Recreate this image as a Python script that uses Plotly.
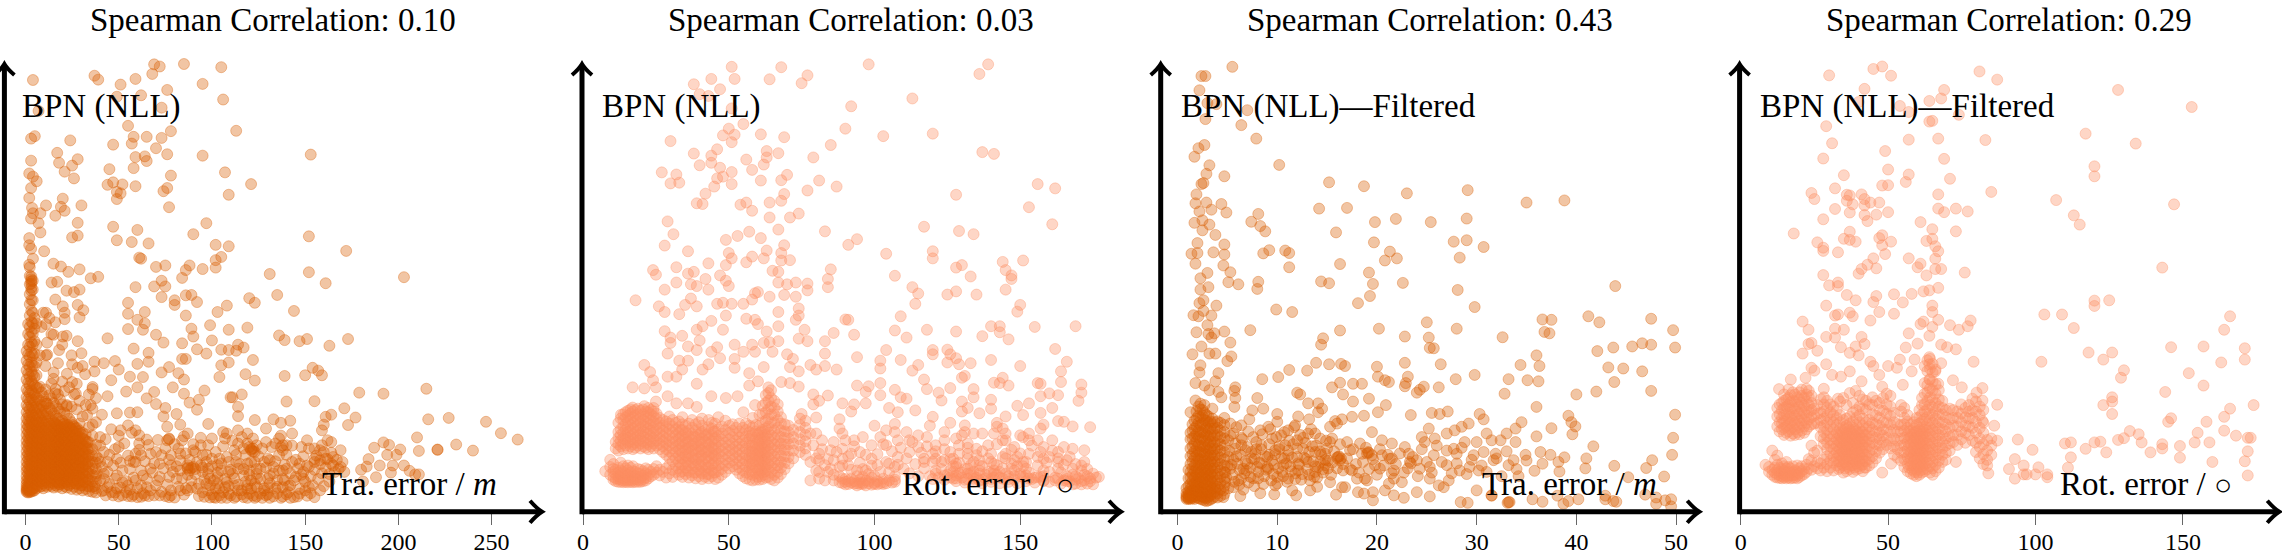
import plotly.graph_objects as go

W, H = 2282, 557
ORANGE = "rgba(217,95,2,0.36)"
SALMON = "rgba(252,141,98,0.36)"
FONT = "Liberation Serif"

titles = ["Spearman Correlation: 0.10", "Spearman Correlation: 0.03", "Spearman Correlation: 0.43", "Spearman Correlation: 0.29"]
method_labels = ["BPN (NLL)", "BPN (NLL)", "BPN (NLL)—Filtered", "BPN (NLL)—Filtered"]
DEG = '<span style="font-size:30px">○</span>'
axis_labels = ["Tra. error / <i>m</i>", "Rot. error / " + DEG, "Tra. error / <i>m</i>", "Rot. error / " + DEG]
tick_vals = [[0, 50, 100, 150, 200, 250], [0, 50, 100, 150], [0, 10, 20, 30, 40, 50], [0, 50, 100, 150]]

# Scattered points: (error, uncertainty score)
tra_all_sparse = [(4,1215),(37,1227),(39,1216),(51,1202),(59,1218),(68,1232),(69,1259),(72,1253),(85,1260),(105,1251),(95,1204),(106,1160),(76,1187),(62,1172),(49,1168),(73,1137),(7,1128),(55,1086),(113,1072),(78,1071),(58,1055),(65,1055),(73,1052),(57,1036),(47,1033),(24,1045),(5,1057),(3,1050),(70,1023),(76,1006),(95,1002),(153,1005),(17,1010),(28,992),(3,988),(18,982),(25,974),(59,998),(64,1000),(65,987),(58,967),(45,964),(21,957),(26,938),(78,946),(107,955),(2,952),(4,943),(6,930),(121,922),(44,920),(47,927),(52,921),(59,916),(76,911),(74,902),(49,900),(51,896),(3,911),(109,892),(2,883),(49,880),(20,881),(11,862),(19,858),(21,847),(30,862),(77,857),(3.5,855),(4,840),(8,840),(16,833),(3,825),(7,812),(28,813),(97,812),(47,802),(60,793),(8,786),(90,781),(152,775),(2,770),(25,772),(28,777),(49,764),(57,759),(66,755),(2,750),(102,751),(109,747),(10,733),(172,734),(3,740),(4,712),(61,715),(62,712),(105,717),(102,708),(2,695),(15,698),(19,690),(23,675),(29,682),(70,689),(75,693),(88,693),(86,680),(95,683),(102,687),(131,669),(152,674),(203,660),(35,657),(39,661),(84,658),(161,643),(14,645),(17,647),(73,650),(69,634),(75,634),(59,632),(29,625),(22,622),(26,618),(135,610),(73,604),(16,597),(120,601),(123,588),(80,595),(86,609),(89,610),(80,582),(92,590),(55,588),(108,580),(20,578),(28,582),(31,567),(64,562),(103,562),(144,565),(55,557),(86,552),(11,560),(21,560),(29,547),(60,540),(21,542),(16,533),(11,528),(64,530),(99,525),(55,514),(63,512),(89,515),(119,518),(109,512),(70,498),(15,498),(22,495),(20,493),(44,488),(136,496),(139,483),(151,486),(147,480),(173,486),(90,493),(100,482),(28,480),(74,476),(84,474),(163,467),(114,470),(117,462),(18,455),(58,459),(92,457),(105,456),(109,455),(113,453),(66,447),(30,446),(97,445),(11,440),(84,430),(86,430),(122,427),(66,422),(37,422),(48,424),(42,418),(60,416),(109,420),(105,412),(77,407),(25,415),(154,405),(157,397),(159,384),(150,384),(50,400),(28,405),(37,395),(73,392),(82,390),(118,387),(139,382),(104,379),(32,387),(63,379),(56,380),(85,372),(123,369),(25,365),(46,370),(15,374),(36,351),(79,350),(60,350),(96,341),(215,346),(179,335),(192,332),(69,337),(116,330),(54,338),(85,332),(110,322),(111,322),(65,319),(44,325),(16,333),(27,332),(140,310),(155,311),(70,303),(88,307),(93,315),(35,300),(11,305),(22,297),(114,295),(171,291),(75,292),(92,287),(56,279),(49,277),(60,280),(33,272),(81,275),(41,273),(164,273),(161,267),(114,269),(74,268),(177,265),(216,260),(227,264),(247,253),(123,258),(133,260),(137,250),(142,256),(98,247),(173,244),(36,245),(83,245),(160,245),(255,221),(264,203),(210,209),(231,189),(240,172),(221,175),(221,174),(211,171),(187,180),(192,195),(195,188),(201,175),(199,160),(194,160),(184,148),(197,130),(190,130),(183,127),(180,118),(203,130),(206,115),(211,105),(209,105),(188,97),(196,110),(181,85)]
tra_all_band = [(51,229),(55,243),(59,229),(61,215),(65,203),(61,192),(50,182),(42,168),(40,210),(76,239),(77,206),(76,201),(87,220),(84,201),(82,178),(90,173),(98,187),(106,224),(108,220),(107,206),(114,229),(129,234),(143,220),(159,229),
(44,140),(49,149),(56,143),(63,102),(67,121),(59,163),(62,159),(70,168),(73,159),(78,159),(72,135),(77,98),(71,88),(81,93),(78,131),(83,116),(87,121),(90,126),(88,116),(91,168),(94,187),(95,159),(100,149),(104,149),(105,116),(109,140),(112,173),(119,220),(119,192),(122,178),(121,173),(123,168),(117,178),(114,192),(129,196),(136,206),(138,187),(137,182),(140,187),(136,159),(131,145),(128,140),(123,140),(119,135),(113,140),(109,112),(111,107),(117,102),(124,107),(131,102),(138,116),(143,140),(148,182),(151,201),(155,178),(159,187),(162,201),(164,196),(169,173),(165,154),(158,145),(155,149),(152,126),(149,112),(164,135),(169,126),(145,98),(149,93),(139,88),(135,88),(130,93),(124,93),(121,88),(98,121),(95,112),(99,93),(103,98),
(120,182),(124,187),(138,173),(134,192),(158,173),(161,149),(155,140),(147,135),(140,121),(133,126),(126,121),(120,116),(114,121),(103,131),(97,140),(94,131),(87,131),(83,163),(67,163),(58,140),
(89,69),(92,65),(95,55),(98,60),(101,41),(104,46),(106,55),(109,51),(112,39),(114,60),(117,41),(120,51),(123,39),(126,51),(129,46),(131,39),(135,52),(138,43),(141,55),(144,41),(147,51),(150,60),(155,41),(152,69),(142,74),(138,69),(130,69),(124,69),(119,74),(112,74),(108,83),(103,79),(97,79),(102,65),(107,69),(116,60),(121,65),(128,60),(134,65),
(100,49),(102,39),(105,39),(108,39),(110,46),(113,43),(116,49),(119,39),(122,45),(124,43),(127,39),(130,49),(133,43),(137,39),(140,49),(142,39),(146,43),(87,124),(89,123),(91,120),(121,176),(122,170),(77,204),
(40,88),(44,69),(46,55),(49,65),(52,46),(54,55),(57,43),(60,41),(64,46),(69,46),(72,46),(77,41),(78,46),(83,60),(87,60),(42,60),(48,93),(52,83),(55,74),(59,88),(62,74),(65,69),(42,107),(40,140),
(43,46),(47,46),(50,43),(55,44),(58,48),(62,42),(66,44),(75,44),(80,40),(85,48),(93,44),(96,42),(99,40),(151,45),(153,52),(158,60),(160,72),(163,85)]
tra_all_fill = [(37,72),(38,108),(39,150),(40,186),(41,58),(41,126),(42,92),(43,204),(44,112),(45,160),(45,78),(46,232),(47,130),(48,54),(48,176),(49,102),(50,214),(51,68),(51,138),(52,116),(53,192),(54,86),(55,158),(56,62),(56,120),(57,222),(58,96),(59,140),(60,66),(61,174),(62,116),(63,52),(64,142),(65,92),(66,188),(67,60),(68,110),(69,136),(70,74),(71,202),(72,98),(73,56),(74,122),(75,178),(76,76),(77,146),(78,60),(79,112),(80,190),(81,128),(82,70),(83,144),(84,94),(85,212),(86,66),(86,164),(87,104),(88,146),(89,88),(90,190),(91,106),(92,140),(93,78),(94,208),(95,124),(96,90),(97,160),(98,106),(99,74),(100,128),(100,206),(101,88),(102,168),(103,110),(104,66),(105,136),(106,184),(107,92),(108,154),(109,72),(110,118),(111,200),(112,94),(113,160),(114,76),(115,134),(116,210),(117,120),(118,84),(118,160),(119,64),(120,104),(121,140),(122,206),(123,78),(124,120),(125,156),(126,92),(127,178),(128,66),(129,124),(130,150),(131,80),(132,182),(133,108),(134,142),(135,70),(136,116),(137,214),(138,92),(139,132),(140,160),(141,72),(142,108),(143,186),(144,88),(145,146),(146,122),(147,64),(148,104),(149,156),(150,84),(151,130),(152,178),(153,100),(154,74),(155,118),(156,158),(157,92),(158,134),(159,108),(160,168),(161,124),(162,148),(163,106),(164,166),(165,130),(166,112),(167,146),(168,120),(170,140),(171,112)]
# Dense regions read column by column: (error, [scores])
tra_all_dense = [
(0.6,[56,60,64,70,78,88,100,114,126,140,156,170,186,200,216,232,246,262,280,300,322,345,372,398,425,452]),
(1.4,[54,58,63,68,74,84,94,108,120,134,148,162,178,192,208,224,240,256,272,294,316,338,362,388,414,442,470,500,528]),
(2.3,[55,59,66,72,82,92,104,116,130,144,158,172,188,204,218,236,250,268,288,310,332,356,380,408,436,464,492,520,552,584,612,640,664,688]),
(3.1,[57,62,70,78,90,100,112,126,138,152,166,182,196,212,228,244,260,278,298,320,342,368,394,420,448,476,506,534,566,596,622,642,654,662,648,630]),
(3.9,[58,64,74,86,96,108,122,134,148,162,176,192,206,222,238,254,272,292,314,336,360,386,412,440,470,500,530,560,595,625,650]),
(4.8,[60,68,80,92,104,116,130,142,156,170,186,200,216,232,248,266,286,308,330,354,380,410,445,480,515,545]),
(5.9,[66,76,90,100,114,128,140,154,168,182,198,212,226,242,258,276,296,322,350,384,420,470,530]),
(6.8,[74,88,98,110,124,136,150,164,178,192,206,222,238,252,270,290,318,348]),
(7.7,[70,84,96,108,118,132,146,160,174,188,202,218,234,250,266,288,312,352,440]),
(8.6,[72,86,100,112,126,138,152,166,180,194,210,224,240,256,278,300,336,520]),
(9.5,[66,80,94,106,120,134,148,160,176,190,204,220,236,252,272,296,325,560]),
(10.7,[74,88,102,116,128,142,156,170,184,198,214,230,246,264,284,310,344,410]),
(11.6,[70,82,96,110,122,136,150,164,178,192,206,222,238,254,276,304,442,476]),
(12.8,[76,92,104,118,132,144,158,172,186,202,216,232,248,268,292,328,545]),
(13.9,[72,84,98,112,126,140,152,168,182,196,212,226,242,260,285,318,360,500]),
(15.1,[68,80,94,108,120,134,148,162,176,190,206,220,236,254,276,306,392]),
(15.7,[86,104,122,140,158,178,196,214,232,250]),
(16.2,[74,90,102,116,130,144,158,172,186,200,216,230,246,268,298,345]),
(16.9,[82,98,118,136,152,170,190,208,226,244]),
(17.4,[70,84,98,112,126,140,154,168,182,198,212,228,242,262,290,330,418]),
(18.1,[78,94,110,128,146,164,180,200,218,238]),
(18.5,[76,90,104,118,132,146,160,174,188,204,218,234,250,282,316]),
(19.2,[88,106,124,142,158,176,194,212,232]),
(19.7,[66,82,96,110,124,138,152,166,180,194,210,224,238,256,302,366,470]),
(20.4,[80,100,120,136,156,172,192,210,230,246]),
(20.9,[72,88,102,116,130,144,158,172,186,200,216,232,248,278,340]),
(21.6,[92,108,128,148,164,182,204,222,240]),
(22.2,[68,84,98,112,126,140,154,168,182,198,212,228,244,272,300,388]),
(22.9,[76,96,114,134,150,170,188,208,226,244]),
(23.4,[74,90,104,118,132,146,160,176,190,206,222,238,262,350]),
(24.1,[86,106,124,144,162,180,198,218,236]),
(24.7,[64,80,96,110,124,138,154,168,184,198,214,232,252,296,440]),
(25.4,[92,114,134,150,170,190,208,226,244]),
(26.1,[70,88,102,118,132,146,162,176,192,208,224,240,330]),
(26.8,[80,100,124,142,160,180,200,216,234]),
(27.5,[62,78,94,108,124,138,154,170,186,202,218,236,288,360]),
(28.2,[88,112,130,148,168,188,206,226]),
(29.0,[66,82,100,114,130,146,162,178,194,210,228,248,312]),
(29.8,[74,96,120,138,156,176,196,218]),
(30.6,[60,74,92,108,124,140,156,172,188,206,222,268,410]),
(31.4,[84,104,126,146,164,184,204]),
(32.3,[64,82,98,116,132,148,166,184,200,218,300]),
(33.2,[72,92,112,136,156,176,196]),
(34.0,[58,72,90,108,126,142,160,178,196,238,330]),
(35.9,[56,70,86,104,122,140,158,176,214,290,345]),
(37.8,[54,66,84,100,120,138,156,188,252,320]),
]

rot_all_sparse = [(51,1252),(68,1251),(98,1259),(139,1259),(136,1232),(77,1228),(75,1206),(64,1217),(52,1218),(44,1218),(38,1203),(47,1189),(40,1175),(43,1170),(113,1163),(92,1141),(51,1135),(55,1091),(50,1078),(90,1078),(103,1057),(120,1064),(61,1062),(69,1054),(48,1059),(52,1061),(30,1043),(51,1040),(85,1032),(46,1020),(137,1012),(141,1007),(38,1008),(63,1015),(67,1009),(44,1002),(63,997),(79,997),(56,991),(44,982),(62,977),(40,975),(47,968),(58,962),(27,955),(51,956),(32,949),(70,948),(46,938),(48,943),(61,932),(68,933),(81,932),(30,924),(33,926),(51,922),(45,915),(87,915),(156,922),(162,910),(77,904),(42,895),(69,894),(128,892),(64,870),(68,875),(39,868),(41,866),(54,864),(56,870),(58,847),(153,857),(74,839),(71,828),(64,828),(29,817),(161,809),(117,802),(67,794),(57,788),(83,789),(129,790),(134,781),(31,781),(53,776),(61,770),(49,765),(94,767),(91,751),(28,749),(69,750),(63,735),(36,733),(120,733),(104,726),(50,728),(68,728),(58,718),(120,713),(51,713),(62,713),(151,707),(71,708),(144,703),(56,702),(68,707),(43,699),(49,694),(130,694),(128,687),(32,688),(145,680),(24,680),(85,682),(65,678),(67,675),(25,667),(36,670),(38,675),(47,665),(147,665),(147,655),(107,664),(133,662),(84,655),(42,655),(49,650),(32,645),(37,640),(77,642),(73,645),(67,645),(70,640),(50,635),(39,635),(113,632),(84,632),(77,623),(28,625),(43,625),(145,625),(60,618),(59,615),(128,620),(135,611),(115,614),(125,611),(69,610),(64,605),(73,605),(18,595),(37,600),(58,597),(55,585),(114,585),(150,582),(149,563),(48,588),(51,585),(35,582),(39,578),(46,585),(26,578),(28,562),(67,562),(74,572),(33,556),(49,552),(109,550),(74,552),(90,541),(91,540),(56,543),(59,540),(73,540),(44,537),(60,528),(41,522),(140,522),(143,522),(155,520),(169,522),(67,522),(39,512),(48,512),(28,508),(118,512),(107,510),(128,507),(86,503),(76,512),(143,505),(93,498),(63,507),(30,490),(34,495),(74,487),(111,490),(137,494),(146,485),(83,480),(77,480),(67,480),(64,477),(30,475),(40,482),(52,470),(58,470),(62,475),(104,455),(162,458),(36,465),(46,463),(39,455),(125,456),(120,455),(55,450),(59,450),(44,450),(29,445),(120,443),(126,443),(83,445),(70,443),(128,432),(94,435),(109,427),(52,430),(47,432),(72,430),(65,450),(166,422),(140,427),(102,425),(125,420),(33,425),(36,425),(21,413),(150,410),(133,418),(129,415),(115,413),(78,413),(83,410),(43,415),(52,405),(62,407),(71,407),(102,403),(80,400),(87,400),(74,395),(23,393),(164,395),(113,397),(34,400),(131,382),(130,377),(57,390),(41,400),(29,380),(32,380),(102,362),(117,372),(144,377),(164,365),(156,362),(157,360),(141,363),(143,362),(171,358),(68,365),(71,362),(60,367),(24,370),(17,350),(21,347),(94,355),(98,353),(146,355),(118,345),(107,343),(126,348),(25,350),(39,360),(74,352),(57,355),(97,337),(122,335),(134,345),(102,328),(171,335),(160,333),(163,328),(79,330),(84,327),(109,322),(111,318),(157,325),(134,322),(123,313),(140,315),(44,325),(49,320),(53,325),(170,312),(25,310),(29,325),(81,312),(79,302),(89,305),(93,302),(97,305),(130,310),(153,305),(149,298),(32,305),(36,305),(105,292),(17,293),(21,297),(161,292),(132,292),(140,290),(59,300),(39,295),(114,285),(108,280),(92,282),(130,282),(136,277),(157,278),(151,272),(145,268),(13,273),(55,280),(120,267),(75,275),(80,265),(88,260),(163,255),(165,253),(142,250),(126,250),(131,243),(158,245),(107,247),(100,242),(119,242),(168,240),(174,238)]
rot_all_band = [(78,220),(80,220),(79,187),(81,163),(78,140),(81,145),(82,201),(86,196),(85,173),(89,177),(89,220),(88,234),(90,201),(93,201),(96,210),(99,187),(99,149),(95,168),(92,163),(89,149),(86,145),(83,131),(80,116),(78,88),(81,93),(84,112),(88,126),(91,131),(94,116),(97,116),(101,131),(105,135),(104,187),(104,229),(102,210),(107,224),(108,201),(111,224),(112,201),(115,215),(115,182),(118,210),(121,187),(117,149),(112,168),(108,154),(107,126),(117,140),(121,116),(124,224),(123,140),(124,201),(128,206),(130,215),(132,192),(129,163),(126,168),(134,220),(137,220),(135,177),(139,187),(141,220),(144,234),(145,201),(148,182),(151,210),(153,220),(157,234),(156,201),(161,201),(165,182),(168,177),(172,173),(172,140),(166,145),(163,168),(158,149),(153,163),(151,140),(148,145),(144,154),(140,140),(136,145),(132,149),(128,135),(126,116),(132,121),(136,116),(141,116),(147,121),(152,121),(158,116),(163,121),(168,121),(171,116),(156,98),(152,102),
(86,88),(88,83),(89,81),(91,86),(93,79),(95,90),(96,81),(98,86),(100,81),(101,86),(103,83),(105,88),(107,90),(89,93),(92,93),(96,98),(99,96),(103,93),(90,77),(94,74),(97,74),(101,77),(95,83),(93,86),(97,88),
(163,93),(165,88),(167,86),(169,90),(171,86),(172,88),(174,86),(176,96),(166,100),(169,100),(173,100),(164,79),(168,77),(171,77),(175,77),(177,98),(175,107),(169,79),(173,79),(160,84),(158,86),(155,82),(152,86),(149,80),(146,84),(143,80),(140,84),(137,80),(134,84),(131,82),(128,86),
(127,112),(129,107),(132,107),(134,112),(136,107),(139,112),(141,107),(143,112),(145,107),(148,116),(150,107),(153,93),(157,98),(128,126),(133,131),(137,128),(142,131),(147,135),(151,128),(149,154),(145,163),(140,163),(135,159),(156,154),(160,154),(163,140),(158,182),(153,201),(150,215),(144,201),(145,220),(142,239),(129,187),(131,224),(124,145),(121,149),(120,163),(127,149),(132,163),(121,107),(124,102),(127,93),(131,90),(134,93),(137,90),(141,96),(144,93),(148,100)]
rot_all_fill = [(80,150),(81,112),(82,176),(83,88),(84,148),(85,120),(86,104),(87,168),(88,100),(89,130),(90,92),(91,156),(92,118),(93,184),(94,100),(95,138),(96,120),(97,160),(98,106),(99,130),(100,100),(101,162),(102,112),(103,190),(104,140),(105,110),(106,170),(107,100),(108,132),(109,180),(110,120),(111,150),(112,108),(113,196),(114,134),(115,100),(116,166),(117,122),(118,184),(119,100),(120,140),(121,170),(122,96),(123,120),(124,176),(125,104),(126,148),(127,128),(128,102),(129,138),(130,96),(131,120),(132,180),(133,108),(134,140),(135,96),(136,130),(137,170),(138,104),(139,150),(140,92),(141,134),(142,190),(143,96),(144,122),(145,150),(146,100),(147,174),(148,90),(149,128),(150,164),(151,98),(152,140),(153,110),(154,186),(155,96),(156,130),(157,168),(158,100),(159,138),(160,112),(161,172),(162,96),(163,150),(164,110),(165,132),(166,92),(167,154),(168,104),(169,134),(170,94),(171,130),(172,104),(173,120),(174,94),(126,96),(130,110),(134,100),(138,94),(142,104),(146,92),(150,100),(154,92),(158,88),(162,88),(166,86),(140,108),(136,88),(132,92),(128,94),(124,90),(120,92),
(90,84),(92,82),(94,80),(96,78),(98,80),(100,78),(102,80),(104,80),(106,82),(91,78),(95,78),(99,76),(103,78),(107,84)]
rot_all_dense = [
(7.6,[114]),(9.3,[104,126,146]),(10.4,[90,98,112,120,134]),(11.2,[86,94,106,118,178,196]),(12.1,[84,92,100,110,124,172,190,208,224,250]),
(12.9,[84,90,96,106,116,138,184,200,216,232,262]),(13.8,[83,88,94,102,112,128,176,192,206,222,240,258,274]),(14.6,[84,90,98,108,122,186,202,214,230,246,266,280]),
(15.4,[83,88,96,104,116,130,178,194,208,224,238,254,270,284]),(16.3,[84,90,98,110,124,184,198,212,228,244,260,276,288]),
(17.1,[83,88,94,102,114,128,176,190,204,218,234,250,266,282]),(17.9,[84,92,100,112,180,194,208,222,238,254,270,286]),
(18.8,[84,90,98,108,120,186,200,214,228,242,258,274,290]),(19.7,[84,88,96,106,118,178,192,206,220,236,252,268,284]),
(20.6,[86,92,102,114,184,198,212,226,242,258,274,288]),(21.5,[88,96,108,122,180,194,208,222,238,252,268,282]),
(22.4,[94,104,118,176,190,204,220,234,248,264,280,292]),(23.3,[100,112,184,198,212,228,244,258,274,286]),
(24.2,[104,120,178,192,206,222,236,252,268,282,292]),(25.2,[110,128,186,200,214,230,246,262,276]),
(26.3,[102,118,176,190,206,220,236,250,264]),(27.4,[112,168,184,198,212,228,242,258]),(28.5,[96,122,160,176,192,206,222,238,254]),
(29.6,[108,132,152,170,186,200,216,232,248,268]),(30.7,[98,118,142,162,178,194,208,224,240,258]),(31.8,[112,130,150,168,184,200,216,232,250]),
(32.9,[104,122,140,158,174,190,206,222,238,254]),(33.5,[112,134,152,172,192,212,230]),(34.1,[98,114,132,150,166,182,198,214,230,246,266]),(35.2,[106,124,142,160,176,192,208,224,242]),(35.8,[116,138,156,178,196,218]),
(36.3,[96,112,130,148,164,180,196,212,228,248]),(37.4,[102,120,138,154,170,186,202,218,236,258]),(38.0,[110,132,150,172,190,212]),(38.6,[94,110,128,146,162,178,194,210,228,246]),
(39.7,[100,118,134,150,168,184,200,216,232,252]),(40.3,[112,130,156,176,196,220]),(40.8,[92,108,126,142,158,174,190,206,224,242,262]),(41.9,[98,114,132,148,166,182,198,214,230]),(42.5,[106,124,152,170,194,216]),
(43.1,[94,106,124,140,156,172,188,204,220,238,258]),(44.2,[100,116,132,150,166,182,198,216,234,250]),(44.8,[110,136,158,178,204,226]),(45.3,[92,110,126,144,160,176,192,208,226,248]),
(46.4,[96,114,130,148,164,180,198,214,232,266]),(47.6,[104,120,136,154,170,186,202,220,240]),(48.8,[112,130,146,162,178,194,212,230,256]),
(50.1,[122,138,156,172,188,204,222,242]),(51.3,[128,144,160,176,192,210,228,246]),(52.5,[118,134,152,168,184,200,218,236]),
(53.6,[108,124,142,158,174,190,208,226,248]),(54.8,[100,116,134,150,166,184,200,218,236]),(55.9,[94,110,128,144,160,178,194,212,230,248]),
(57.1,[90,106,124,140,156,172,190,206,224,242]),(57.7,[114,134,150,168,186,214]),(58.2,[88,104,120,136,154,170,186,204,220,238,264]),(59.3,[90,108,124,142,158,174,190,208,226,244]),(59.9,[98,118,146,164,180,200,218]),
(60.5,[90,106,122,140,156,172,190,206,222,242,272]),(61.1,[100,116,134,152,168,184,202,224]),(61.6,[92,110,128,144,162,178,194,212,230,252,276,298]),(62.2,[104,122,138,156,174,190,208,226]),(62.7,[96,114,130,148,166,182,198,216,234,256,280,306,328]),
(63.6,[98,116,134,152,168,186,204,222,240,262,288,312,334,350]),(64.5,[92,110,126,144,160,178,196,214,232,252,274,296,320,342]),(65.6,[88,104,122,138,156,174,190,208,228,250,272,292,312]),
(66.8,[96,112,130,146,164,182,198,216,236,258,282,302]),(67.9,[106,124,140,158,176,192,210,228,248,266]),(69.2,[120,138,156,174,190,208,226,246]),
(70.5,[136,154,172,190,206,224,242]),(72.1,[150,172,192,210,230]),(74.4,[168,186,204,224,244,262]),(76.3,[160,178,198,216,236,256]),
]

tra_filtered_sparse = [(4.0,1261),(5.5,1252),(2.4,1226),(2.8,1226),(2.2,1186),(3.0,1150),(3.9,1147),(7.0,1130),(2.8,1105),(6.4,1088),(7.9,1050),(2.7,1032),(2.1,1023),(1.7,999),(10.2,976),(3.2,975),(2.9,951),(4.7,944),(2.6,925),(2.4,922),(15.2,927),(18.7,916),(23.0,896),(29.1,905),(1.9,893),(38.8,876),(35.0,870),(4.4,866),(1.8,868),(2.9,870),(14.2,853),(17.0,855),(3.4,850),(4.9,842),(2.2,845),(8.1,838),(21.9,824),(29.0,825),(7.4,816),(19.8,815),(25.4,815),(1.7,813),(2.5,820),(8.3,804),(3.2,808),(8.8,789),(15.9,786),(2.5,792),(3.8,779),(2.0,756),(4.7,752),(19.7,758),(27.7,760),(29.0,764),(30.7,745),(9.2,736),(10.8,735),(11.2,728),(8.6,727),(3.6,730),(4.7,724),(1.4,726),(2.0,728),(21.3,732),(22.0,713),(20.8,707),(28.3,715),(16.3,697),(1.8,698),(4.6,693),(11.2,688),(5.3,674),(3.0,672),(19.2,673),(2.3,657),(6.1,640),(5.1,646),(8.1,647),(14.4,648),(15.2,643),(19.6,641),(22.6,644),(43.9,635),(8.0,627),(3.1,632),(2.3,625),(28.1,624),(19.3,607),(2.6,595),(2.2,587),(18.1,587),(3.9,580),(29.8,576),(9.9,569),(11.5,562),(1.6,553),(2.6,565),(2.1,550),(3.4,552),(41.2,550),(42.3,533),(47.5,543),(36.6,541),(37.5,540),(25.0,533),(3.0,525),(7.3,511),(16.3,510),(20.2,515),(28.0,515),(49.7,511),(36.8,506),(37.3,502),(4.7,507),(1.9,505),(3.7,502),(3.1,500),(22.8,493),(25.2,490),(32.6,491),(14.6,488),(3.4,490),(5.3,476),(14.4,470),(45.6,465),(46.6,474),(47.5,470),(49.9,462),(43.7,462),(25.3,461),(25.7,460),(2.4,465),(42.1,452),(3.2,445),(3.8,445),(1.5,443),(36.0,440),(5.4,437),(5.0,424),(13.9,419),(15.2,415),(16.4,416),(16.8,410),(22.8,419),(26.4,415),(20.0,408),(34.4,413),(36.3,410),(43.2,406),(44.7,403),(2.3,412),(11.2,399),(13.0,397),(46.6,395),(2.2,392),(4.1,390),(10.1,379),(29.8,385),(23.1,380),(20.1,380),(8.5,373),(27.9,373),(33.2,373),(35.1,370),(36.2,367),(43.8,365),(3.8,367),(1.8,362),(20.8,370),(21.2,365),(16.3,363),(17.6,360),(18.5,360),(22.9,362),(5.8,350),(24.7,352),(2.7,355),(15.5,350),(22.8,353),(26.2,350),(24.3,343),(5.7,340),(47.5,340),(42.0,338),(3.2,342),(24.0,335),(32.8,332),(40.0,330),(12.0,335),(12.3,330),(16.6,330),(4.1,337),(4.4,322),(5.8,320),(8.0,320),(19.2,318),(1.8,313),(17.6,310),(13.1,305),(14.1,305),(20.9,300),(36.0,295),(5.7,295),(3.5,290),(7.5,285),(8.6,290),(20.1,280),(14.5,290),(27.1,282),(25.5,278),(26.3,275),(30.3,275),(49.9,273),(39.2,270),(1.3,280),(23.4,272),(18.7,270),(17.5,267),(7.2,260),(10.0,275),(12.1,268),(13.2,260),(14.1,280),(16.5,260),(15.8,255),(30.7,260),(34.5,252),(39.5,252),(39.9,240),(37.5,235),(36.0,212),(39.6,218),(49.7,208),(41.7,184),(36.4,168),(37.4,160),(38.8,153),(49.6,160),(41.0,150),(47.6,145),(34.9,160),(38.2,140),(36.6,135),(40.9,122),(43.8,129),(47.0,123),(38.3,113),(48.8,99),(45.2,97),(35.8,115),(34.2,100),(42.9,45),(43.7,30),(42.9,35),(44.0,28),(48.0,40),(48.0,22),(49.5,35),(49.5,15),(48.9,32),(46.9,48),(38.7,22),(39.2,30),(40.2,35),(36.6,28),(35.6,35),(33.3,27),(33.1,25),(29.1,25),(28.4,27),(38.1,45),(31.5,45)]
tra_filtered_band = [(6.4,243),(5.6,220),(5.3,248),(6.4,187),(5.1,154),(5.8,177),(5.1,201),(6.0,135),(6.8,173),(6.6,121),(5.3,121),(4.8,83),(3.8,65),(4.6,41),(5.6,69),(6.4,93),(7.3,98),(7.0,135),(7.6,210),(7.8,163),(8.0,126),(8.3,229),(8.4,187),(9.0,154),(9.1,239),(9.5,206),(9.8,173),(9.1,121),(10.0,98),(9.8,74),(9.7,49),(10.0,253),(10.4,215),(10.8,187),(11.1,229),(11.1,159),(10.6,131),(11.1,93),(11.8,243),(12.0,201),(12.0,154),(12.1,116),(11.9,46),(12.6,177),(13.1,140),(13.1,220),(13.3,88),(13.3,60),(13.8,168),(13.8,220),(13.8,112),(14.3,140),(14.8,163),(14.8,131),(15.3,239),(15.5,206),(15.3,83),(16.0,248),(16.1,154),(16.3,145),(16.6,116),(16.5,69),(16.8,69),(17.0,196),(17.3,173),(17.5,116),(18.0,93),(18.3,192),(18.5,163),(19.0,88),(18.8,93),(18.1,55),(18.7,51),(19.6,55),(19.6,32),(19.1,168),(19.5,159),(19.5,224),(19.8,131),(20.3,121),(20.5,201),(20.5,159),(21.3,149),(21.5,192),(21.7,116),(21.7,93),(21.2,79),(22.5,83),(21.7,46),(22.7,39),(23.3,140),(22.8,182),(23.2,163),(24.0,55),(24.0,145),(24.3,121),(25.3,126),(25.3,93),(25.3,43),(24.5,210),(24.8,196),(25.2,234),(25.8,206),(25.7,159),(27.0,220),(27.0,131),(26.7,69),(27.2,88),(27.8,229),(27.7,177),(28.0,163),(28.5,239),(28.8,196),(28.3,116),(29.3,126),(29.7,159),(29.2,248),(31.0,220),(31.5,201),(30.7,168),(31.9,163),(31.7,145),(33.2,131),(33.7,145),(33.9,234),(33.0,220),(33.9,196),(30.2,116),(30.0,60),(31.5,46),(33.2,27),(32.4,201),
(16.0,152),(16.2,156),(16.4,150),(19.0,164),(19.2,166),(21.5,150),(23.4,136),
(4.9,96),(5.0,128),(5.2,171),(5.3,214),(5.5,104),(5.6,146),(5.8,192),(5.9,238),(6.1,88),(6.2,118),(6.3,160),(6.5,204),(6.7,108),(6.8,142),(7.0,182),(7.1,226),(7.3,124),(7.4,168),(7.6,94),(7.7,148),(7.9,196),(8.1,112),(8.2,138),(8.4,176),(8.5,218),(8.7,100),(8.8,156),(9.0,126),(9.2,190),(9.3,232),(9.5,144),(9.6,106),(9.8,162),(9.9,210),(10.1,122),(10.2,184),(10.4,152),(10.6,100),(10.7,224),(10.9,136),(11.1,172),(11.2,200),(11.4,114),(11.5,152),(11.7,238),(11.8,92),(12.0,178),(12.2,132),(12.3,216),(12.5,106),(12.7,152),(12.8,194),(13.0,120),(13.2,168),(13.4,232),(13.6,142),(13.7,98),(13.9,186),(14.1,126),(14.3,206),(14.4,160),(14.6,110),(14.8,146),(15.0,178),(15.1,122),(15.3,196),(15.5,138)]
tra_filtered_fill = [(4.6,60),(4.8,110),(5.1,66),(5.4,132),(5.7,84),(5.9,156),(6.2,76),(6.4,208),(6.6,62),(6.9,116),(7.1,82),(7.4,150),(7.7,72),(7.9,176),(8.1,94),(8.4,136),(8.6,78),(8.9,118),(9.2,160),(9.4,88),(9.7,132),(10.0,80),(10.2,176),(10.5,112),(10.7,150),(11.0,84),(11.3,128),(11.6,190),(11.8,108),(12.1,136),(12.4,90),(12.6,208),(12.9,148),(13.2,104),(13.5,184),(13.8,128),(14.0,96),(14.3,170),(14.6,120),(14.9,200),(15.1,144),(15.4,104),(15.7,170),(16.0,122),(16.3,190),(16.6,134),(17.0,150),(17.3,120),(17.6,176),(17.9,134),(18.2,110),(18.6,140),(18.9,180),(19.2,120),(19.6,148),(20.0,104),(20.3,176),(20.7,130),(21.1,160),(21.5,108),(21.9,134),(22.3,164),(22.7,110),(23.1,122),(23.6,154),(24.1,100),(24.5,176),(25.0,140),(25.5,110),(26.0,186),(26.5,140),(27.0,172),(27.5,108),(28.0,136),(28.5,180),(29.0,106),(29.5,146),(30.0,196),(30.5,130),(31.0,112),(32.0,150),(33.0,170),(34.0,120),(35.0,144),(32.5,100),(26.2,74),(20.8,60),(15.9,48),(14.0,70),(11.5,60),(8.3,52),(6.3,44)]
tra_filtered_dense = [
(0.9,[36,40,44,52,66]),(1.1,[36,38,42,48,56,72,94,118]),(1.3,[36,40,46,54,64,78,96,112,134,156,178,204,222]),
(1.5,[38,42,50,60,74,88,104,122,142,162,184,206,228,246]),(1.7,[36,44,54,66,80,96,114,130,152,170,192,212,234,256]),
(1.9,[40,48,60,72,86,104,120,138,158,176,198,218,240,262,282]),(2.1,[38,46,56,70,84,100,116,134,150,170,188,210,228,250,270,296]),
(2.3,[36,44,52,66,82,96,112,130,146,166,184,204,224,244,266,288,304]),(2.5,[34,42,54,68,84,98,116,132,150,168,186,208,226,248,270,286]),
(2.7,[32,40,52,64,78,94,110,126,144,162,182,200,220,240,258,278,300]),(2.9,[30,38,48,62,76,92,108,124,142,160,178,198,216,236,256,272]),
(3.1,[32,42,56,70,86,102,118,136,154,172,190,210,230,250,268]),(3.3,[34,46,60,74,90,106,122,140,158,176,196,214,234,254]),
(3.5,[38,50,66,82,98,114,132,150,168,186,206,226,246,262]),(3.7,[42,56,72,88,104,122,140,158,176,194,214,234,252]),
(4.0,[40,52,70,88,106,124,142,160,178,198,216,236,254]),(4.3,[44,62,80,98,116,134,152,172,190,210,228,250]),
(4.7,[50,72,92,112,130,148,168,186,206,224,244,264]),
]

rot_filtered_sparse = [(32,1261),(30,1228),(45,1246),(48,1253),(51,1227),(81,1239),(87,1216),(42,1190),(69,1187),(128,1187),(68,1163),(64,1156),(40,1153),(54,1142),(153,1139),(57,1125),(74,1117),(64,1098),(65,1100),(29,1085),(117,1064),(67,1050),(57,1047),(83,1046),(31,1037),(134,1036),(49,1015),(28,994),(69,993),(120,972),(50,963),(35,947),(57,949),(120,944),(71,937),(56,928),(48,918),(50,919),(32,910),(85,900),(24,897),(25,880),(36,892),(41,893),(37,890),(67,893),(36,875),(42,880),(44,870),(47,870),(42,862),(107,877),(147,865),(67,853),(73,853),(32,852),(38,865),(37,842),(77,845),(69,843),(50,843),(46,836),(42,835),(28,823),(113,834),(43,818),(115,808),(61,815),(65,795),(18,783),(73,789),(37,788),(48,778),(47,770),(35,768),(37,765),(39,760),(26,758),(51,760),(48,750),(63,762),(65,768),(66,747),(28,743),(28,734),(67,733),(33,730),(49,725),(45,713),(57,713),(66,712),(61,698),(43,695),(46,685),(41,683),(143,687),(60,688),(68,683),(66,683),(40,670),(63,665),(76,673),(28,666),(33,645),(30,637),(33,635),(67,630),(62,620),(64,623),(52,612),(58,613),(36,610),(46,607),(39,595),(45,590),(55,589),(125,595),(120,594),(120,579),(29,580),(65,580),(65,562),(47,562),(33,555),(37,560),(38,550),(52,557),(32,552),(103,555),(109,555),(21,535),(67,540),(44,538),(78,538),(62,535),(166,550),(61,528),(71,525),(77,522),(74,512),(65,520),(113,517),(23,512),(32,515),(164,512),(35,512),(57,502),(64,495),(29,492),(32,490),(41,492),(24,475),(60,473),(39,465),(42,472),(68,470),(70,463),(56,462),(34,463),(23,472),(146,463),(157,465),(171,460),(73,457),(26,453),(21,445),(37,447),(40,440),(118,448),(126,448),(64,435),(123,428),(171,428),(59,428),(54,428),(79,422),(102,422),(163,420),(44,422),(29,415),(68,418),(64,415),(50,410),(45,410),(53,405),(24,405),(25,397),(130,398),(152,390),(58,395),(37,395),(31,385),(66,395),(47,385),(34,380),(129,377),(22,377),(17,372),(72,370),(41,367),(64,372),(157,355),(55,357),(75,350),(67,360),(48,352),(82,348),(39,340),(13,345),(144,337),(80,335),(33,318),(126,322),(126,310),(87,301),(82,313),(123,300),(174,300),(166,290),(126,275),(164,267),(146,263),(145,253),(158,253),(82,255),(86,242),(164,228),(155,222),(154,195),(132,227),(135,218),(130,207),(128,202),(168,214),(172,208),(173,208),(94,203),(87,200),(110,192),(112,195),(122,197),(120,195),(136,195),(143,190),(149,185),(159,195),(99,174),(117,177),(143,178),(124,167),(139,167),(172,170),(112,153),(149,152),(160,140),(171,142),(93,148),(111,124),(91,120),(96,130),(101,125),(172,102),(84,108),(93,93),(96,105),(97,105),(100,105),(104,105),(104,97),(48,110),(73,140),(51,135)]
rot_filtered_dense = [
(8.4,[132]),(9.6,[112,126]),(10.7,[104,118,172]),(11.6,[98,110,124,146]),(12.4,[96,106,116,132,158,240,268,292]),
(13.2,[95,102,112,124,226,252,274,302]),(14.0,[94,100,108,120,136,232,248,264,286,306]),(14.7,[96,104,114,128,216,236,254,272,292,312,330]),
(15.5,[94,100,110,122,140,222,240,258,276,296,316]),(16.2,[96,102,112,126,226,244,262,280,300,320,344]),(16.9,[94,102,110,122,214,232,250,268,288,308,328]),
(17.7,[95,102,112,128,220,238,256,272,292,312,336]),(18.4,[96,104,116,216,232,250,270,290,310,330]),(19.2,[94,102,112,130,224,244,262,282,302,322]),
(19.9,[98,108,122,218,238,256,276,296,316,336]),(20.7,[102,114,128,228,248,266,286,306,326,344]),(21.5,[106,120,222,240,258,278,298,320]),
(22.3,[112,132,232,250,270,290,310,330,346]),(23.1,[122,148,240,260,280,300,322,340]),(24.0,[118,144,186,246,266,286,306,326]),
(24.9,[128,166,248,270,290]),(26.0,[122,140,172,250,276,300]),(27.1,[116,136,212,238,258,278,316]),(28.2,[124,146,190,206,224,242,262,282,302,322,346]),
(29.3,[114,134,156,176,194,212,230,250,270,292,312]),(30.4,[124,144,164,184,202,220,240,260,280,302]),(31.5,[116,138,156,176,192,212,232,252,272,296]),
(32.6,[130,150,168,186,204,222,244,264,286]),(33.2,[120,142,160,182,200,218]),(33.7,[124,142,160,178,196,214,234,252,272,310]),(34.3,[134,154,172,192,208,226]),(34.8,[110,130,148,166,184,202,220,238,258,320]),
(35.4,[122,140,160,176,194,212,232]),(35.9,[114,134,152,170,188,206,224,242,262,300]),(36.5,[126,146,164,182,200,218,236]),(37.0,[120,140,158,176,194,212,230,248,268,334]),(37.6,[130,150,168,186,206,224]),(38.1,[112,130,148,166,184,202,218,236,254,280,306]),
(38.7,[124,142,162,178,196,214,232]),(39.2,[118,136,154,174,192,210,226,244,264,286]),(39.8,[128,146,166,186,204,222]),(40.3,[122,140,158,178,196,214,232,252,272,296,326]),(40.9,[132,150,168,188,206,224]),(41.4,[114,132,150,170,188,206,224,242,262,290,316]),(42.0,[124,144,162,180,198,216]),
(42.5,[124,142,160,180,198,216,234,252,286,312]),(43.6,[130,148,168,186,204,222,240,258,302]),(44.7,[138,156,176,194,212,230,250,274,300,322]),
(45.9,[150,170,190,208,226,246,270,312]),(47.1,[166,186,204,222,242,264,286,306]),(48.3,[176,196,214,232,252,284,320]),(49.5,[188,208,230,252,276,302,332]),
(50.8,[178,200,224,246,270,296,326]),(52.0,[160,184,206,230,252,278]),(53.2,[152,176,200,224,246]),(54.4,[144,166,186,206,226,244,282,300]),
(55.5,[126,148,168,188,208,228,246,264,292]),(56.6,[114,134,154,176,196,216,236,254,272]),(57.1,[124,144,164,186,206,226]),(57.7,[108,130,150,168,190,210,228,246]),(58.2,[118,136,156,176,200,218]),(58.7,[104,122,142,162,180,198,216,234,252]),
(59.1,[112,130,150,170,188,208,224]),(59.6,[100,118,136,154,172,190,208,226,244,264]),(60.1,[110,132,148,166,182,202,220]),(60.6,[104,124,142,160,176,194,212,230,248,266,286]),(61.1,[116,134,152,170,190,206,226]),(61.5,[110,128,146,164,182,200,218,236,254,274,300,320]),
(62.0,[120,138,158,176,194,212,230]),(62.4,[114,132,152,170,186,204,222,240,260,282,302,332,362,410]),(63.3,[120,138,156,174,192,210,228,246,266,288,312,336,356,396,426]),(64.2,[110,128,146,164,182,200,218,236,256,276,300,322,346,372,402,430]),
(65.1,[104,122,140,158,176,194,212,230,250,272,294,316,342,366,392,416]),(66.1,[114,132,152,170,188,206,224,242,262,284,306,332,358,400]),(67.2,[124,144,162,180,198,216,234,252,274,296,316,342]),
(68.4,[140,160,178,196,214,232,252,274,292,312]),(69.6,[146,166,186,206,226,246,266,286]),(70.9,[172,192,212,236,260,290]),(72.1,[196,216,242,264,286]),(73.5,[188,216,240,264,282]),
(74.8,[204,226,252,276,302]),(76.2,[194,222,242,266,292]),(77.4,[216,240,262,282,300]),(78.6,[200,236,264,286,318]),(79.8,[168,194,222,252,282,310]),(81.1,[150,182,206,236,272,296]),(82.3,[134,162,190,222,250,286]),(83.6,[130,146,172,202]),(85.0,[160,186,206]),
]


def flatten(sparse, dense):
    xs = [p[0] for p in sparse]
    ys = [p[1] for p in sparse]
    for x, column in dense:
        for y in column:
            xs.append(x)
            ys.append(y)
    return xs, ys


series = [
    (tra_all_sparse + tra_all_band + tra_all_fill, tra_all_dense, ORANGE),
    (rot_all_sparse + rot_all_band + rot_all_fill, rot_all_dense, SALMON),
    (tra_filtered_sparse + tra_filtered_band + tra_filtered_fill, tra_filtered_dense, ORANGE),
    (rot_filtered_sparse, rot_filtered_dense, SALMON),
]

# Layout in pixels: y-axis position, arrow tip, tick anchors, label positions
AX_Y, AX_TOP = 511.7, 64.0
axis_px = [4.4, 582.0, 1160.7, 1739.6]
tip_px = [542.0, 1121.0, 1699.3, 2279.3]
tick0_px = [25.5, 583.1, 1177.5, 1740.7]
px_per_unit = [1.8644, 2.914, 9.972, 2.948]
title_cx = [272.7, 851.0, 1430.0, 2009.0]
method_left = [20.0, 599.5, 1178.5, 1757.5]
label_right = [499.0, 1076.0, 1659.0, 2234.0]


def PX(p):
    return p / W


def PY(p):
    return 1 - p / H


fig = go.Figure()
shapes, annotations = [], []
for i, (sparse, dense, color) in enumerate(series):
    n = "" if i == 0 else str(i + 1)
    xs, ys = flatten(sparse, dense)
    fig.add_trace(go.Scatter(
        x=xs, y=ys, mode="markers", xaxis="x" + n, yaxis="y" + n, showlegend=False,
        cliponaxis=False,
        marker=dict(size=11, color=color, line=dict(width=1, color=color)),
    ))
    x0 = (axis_px[i] - tick0_px[i]) / px_per_unit[i]
    x1 = (tip_px[i] - tick0_px[i]) / px_per_unit[i]
    fig.update_layout({
        "xaxis" + n: dict(
            domain=[PX(axis_px[i]), PX(tip_px[i])], range=[x0, x1], anchor="y" + n, automargin=False,
            tickvals=tick_vals[i], ticktext=[str(v) for v in tick_vals[i]],
            showgrid=False, zeroline=False, showline=False,
            ticks="outside", ticklen=12.5, tickwidth=1, tickcolor="#666666", ticklabelstandoff=-4,
            tickfont=dict(family=FONT, size=24, color="black"),
        ),
        "yaxis" + n: dict(
            domain=[PY(AX_Y), PY(AX_TOP)], range=[0, 1260], anchor="x" + n, automargin=False,
            visible=False,
        ),
    })
    lw = dict(color="black", width=5)
    ax = axis_px[i]
    tip = tip_px[i]
    shapes += [
        dict(type="line", xref="paper", yref="paper", x0=PX(ax), x1=PX(tip - 1), y0=PY(AX_Y), y1=PY(AX_Y), line=lw),
        dict(type="line", xref="paper", yref="paper", x0=PX(ax), x1=PX(ax), y0=PY(AX_Y + 2.5), y1=PY(AX_TOP + 1), line=lw),
        dict(type="path", xref="paper", yref="paper",
             path=f"M {PX(tip-12)} {PY(AX_Y-11)} Q {PX(tip-5)} {PY(AX_Y-3)} {PX(tip)} {PY(AX_Y)} Q {PX(tip-5)} {PY(AX_Y+3)} {PX(tip-12)} {PY(AX_Y+11)}", line=dict(color="black", width=4)),
        dict(type="path", xref="paper", yref="paper",
             path=f"M {PX(ax-10)} {PY(AX_TOP+11)} Q {PX(ax-3)} {PY(AX_TOP+5)} {PX(ax)} {PY(AX_TOP)} Q {PX(ax+3)} {PY(AX_TOP+5)} {PX(ax+10)} {PY(AX_TOP+11)}", line=dict(color="black", width=4)),
    ]
    annotations += [
        dict(text=titles[i], x=PX(title_cx[i]), y=PY(19.5), xref="paper", yref="paper", xanchor="center", yanchor="middle",
             showarrow=False, font=dict(family=FONT, size=33, color="black")),
        dict(text=method_labels[i], x=PX(method_left[i]), y=PY(106.6), xref="paper", yref="paper", xanchor="left", yanchor="middle",
             showarrow=False, font=dict(family=FONT, size=33, color="black")),
        dict(text=axis_labels[i], x=PX(label_right[i]), y=PY(484), xref="paper", yref="paper", xanchor="right", yanchor="middle",
             showarrow=False, font=dict(family=FONT, size=33, color="black")),
    ]

fig.update_layout(width=W, height=H, margin=dict(l=0, r=0, t=0, b=0), paper_bgcolor="white", plot_bgcolor="rgba(0,0,0,0)",
                  shapes=shapes, annotations=annotations)
fig.write_html("out.html", config={"displayModeBar": False}, post_script="document.body.style.margin='0';document.body.style.overflow='hidden';")
